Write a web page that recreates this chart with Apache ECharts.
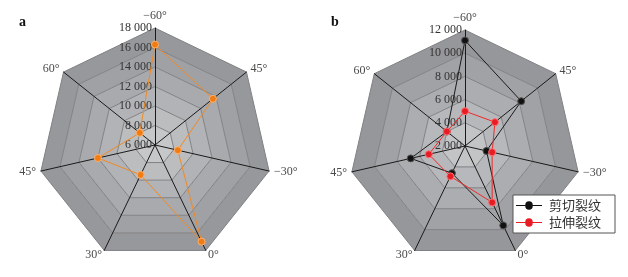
<!DOCTYPE html>
<html><head><meta charset="utf-8">
<script src="https://cdn.jsdelivr.net/npm/echarts@6/dist/echarts.min.js"></script>
<style>html,body{margin:0;padding:0;background:#fff}#c{width:628px;height:277px}</style>
</head><body><div id="c"></div>
<script>
// clockwise from top
const axisNames = ['\u221260\u00b0','45\u00b0','\u221230\u00b0','0\u00b0','30\u00b0','45\u00b0','60\u00b0'];
const seriesA = [16300, 13600, 8400, 17000, 9400, 12000, 8000];
const seriesBShear = [11100, 8200, 3900, 9600, 4600, 6800, 4000];
const seriesBTension = [5000, 5300, 4400, 7400, 4900, 5200, 4000];
const legendNames = ['剪切裂纹', '拉伸裂纹'];
const rangeA = [6000, 18000];
const rangeB = [2000, 12000];

// ECharts radar runs counter-clockwise: reorder so the top axis stays first
const order = [0, 6, 5, 4, 3, 2, 1];
const cw = arr => order.map(i => arr[i]);

function fmt(v){ return String(v).replace(/\B(?=(\d{3})+(?!\d))/g, ' '); }
function indicators(range){
  return cw(axisNames).map((n,i)=>{
    const o = {name:n, min:range[0], max:range[1]};
    if(i>0) o.axisLabel = {show:false};
    return o;
  });
}
const bandsA = ['#c6c7c9','#bcbdbf','#b2b3b6','#a9aaad','#a0a1a4','#97989b'];
const bandsB = ['#c3c4c6','#b7b8bb','#acadb0','#a1a2a5','#96979a'];
function radar(center, r, range, split, bands){
  return {
    center: center, radius: r, startAngle: 90, splitNumber: split, shape:'polygon',
    indicator: indicators(range),
    axisName: {color:'#4a4a4a', fontFamily:'Liberation Serif', fontSize:12},
    nameGap: 5,
    axisLine: {lineStyle:{color:'#1a1a1a', width:1}},
    splitLine: {lineStyle:{color:'#808184', width:1}},
    splitArea: {show:true, areaStyle:{color:bands}},
    axisLabel: {show:true, color:'#333', fontFamily:'Liberation Serif', fontSize:12, formatter: fmt, margin: 3}
  };
}
const icon = 'path://M0,7h10a4,4 0 1,1 8,0h10v1h-10a4,4 0 1,1 -8,0h-10z';
const chart = echarts.init(document.getElementById('c'), null, {renderer:'canvas'});
chart.setOption({
  animation:false,
  title:[
    {text:'a', left:14, top:10, textStyle:{fontFamily:'Liberation Serif', fontWeight:'bold', fontSize:14, color:'#111'}},
    {text:'b', left:326, top:10, textStyle:{fontFamily:'Liberation Serif', fontWeight:'bold', fontSize:14, color:'#111'}}
  ],
  radar:[
    radar([155,145],117,rangeA,6,bandsA),
    radar([465,146],116,rangeB,5,bandsB)
  ],
  legend:{
    data: legendNames.map(n=>({name:n, icon:icon})), orient:'vertical', left:513, top:195,
    backgroundColor:'#fff', borderColor:'#555', borderWidth:1, borderRadius:0,
    padding:[4,14,4,3], itemGap:4, itemWidth:26, itemHeight:9,
    itemStyle:{borderWidth:0},
    textStyle:{fontFamily:'Noto Sans CJK SC', fontSize:13, color:'#333', padding:[0,0,0,2]}
  },
  series:[
    {type:'radar', radarIndex:0, symbol:'circle', symbolSize:7,
     lineStyle:{color:'#f08a24', width:1}, itemStyle:{color:'#f07d14', borderColor:'#ffb070', borderWidth:1},
     data:[{value:cw(seriesA), name:'a'}]},
    {type:'radar', radarIndex:1, name:legendNames[0], symbol:'circle', symbolSize:7,
     lineStyle:{color:'#1a1a1a', width:1}, itemStyle:{color:'#111', borderColor:'#555', borderWidth:1},
     data:[{value:cw(seriesBShear), name:legendNames[0]}]},
    {type:'radar', radarIndex:1, name:legendNames[1], symbol:'circle', symbolSize:7,
     lineStyle:{color:'#ee2a2a', width:1}, itemStyle:{color:'#e81c24', borderColor:'#ff7070', borderWidth:1},
     data:[{value:cw(seriesBTension), name:legendNames[1]}]}
  ]
});
</script></body></html>
